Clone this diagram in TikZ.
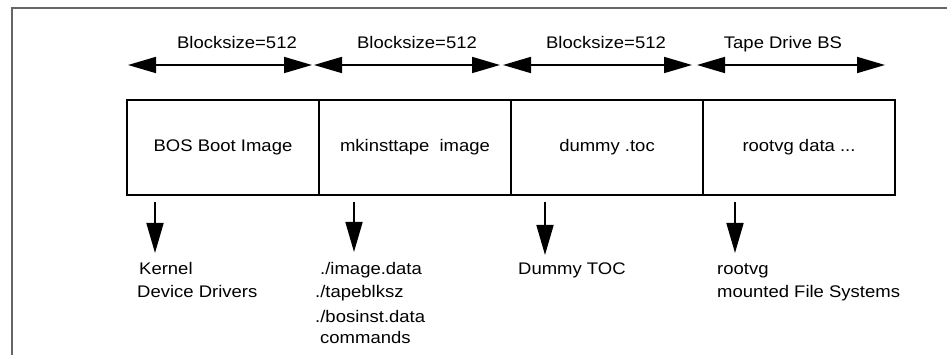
\documentclass[tikz,border=0pt]{standalone}
\usepackage{fontspec}
\setmainfont[FakeStretch=1.1]{Liberation Sans}
\usetikzlibrary{arrows.meta}
\begin{document}
\begin{tikzpicture}[x=1pt,y=-1pt,
  seg/.style={draw, line width=1.7pt, minimum width=192pt, minimum height=95pt, inner sep=0pt, font=\fontsize{16.8}{20}\selectfont},
  lbl/.style={inner sep=0pt, font=\fontsize{16.8}{20}\selectfont},
  dim/.style={line width=1.7pt, {Triangle[length=28pt,width=16pt]}-{Triangle[length=28pt,width=16pt]}},
  down/.style={line width=1.7pt, -{Triangle[length=30pt,width=17pt]}},
  frame/.style={draw=black!60, line width=1.2pt}]
\useasboundingbox (0,0) rectangle (947,355);
\draw[frame] (12,355) -- (12,8) -- (947,8);
% segments
\node[seg] (b1) at (223,147.5) {BOS Boot Image};
\node[seg] (b2) at (415,147.5) {mkinsttape\ \ image};
\node[seg] (b3) at (607,147.5) {dummy .toc};
\node[seg] (b4) at (799,147.5) {rootvg data ...};
% dimension arrows
\coordinate (d0) at (128,65);
\coordinate (d1a) at (312,65);
\coordinate (d1b) at (314,65);
\coordinate (d2a) at (500,65);
\coordinate (d2b) at (503,65);
\coordinate (d3a) at (692,65);
\coordinate (d3b) at (697,65);
\coordinate (d4) at (885,65);
\draw[dim] (d0) -- (d1a);
\draw[dim] (d1b) -- (d2a);
\draw[dim] (d2b) -- (d3a);
\draw[dim] (d3b) -- (d4);
\node[lbl, anchor=base] (t1) at (237,49) {Blocksize=512};
\node[lbl, anchor=base] (t2) at (417,49) {Blocksize=512};
\node[lbl, anchor=base] (t3) at (606,49) {Blocksize=512};
\node[lbl, anchor=base] (t4) at (783,49) {Tape Drive BS};
% down arrows
\coordinate (s1) at (155,202); \coordinate (e1) at (155,253);
\coordinate (s2) at (354,202); \coordinate (e2) at (354,252);
\coordinate (s3) at (545,202); \coordinate (e3) at (545,255);
\coordinate (s4) at (735,202); \coordinate (e4) at (735,253);
\draw[down] (s1) -- (e1);
\draw[down] (s2) -- (e2);
\draw[down] (s3) -- (e3);
\draw[down] (s4) -- (e4);
% texts below
\node[lbl, anchor=base west] (k1) at (139,274) {Kernel};
\node[lbl, anchor=base west] (k2) at (137,298) {Device Drivers};
\node[lbl, anchor=base west] (m1) at (320,274) {./image.data};
\node[lbl, anchor=base west] (m2) at (315,298) {./tapeblksz};
\node[lbl, anchor=base west] (m3) at (315,322) {./bosinst.data};
\node[lbl, anchor=base west] (m4) at (320,343) {commands};
\node[lbl, anchor=base west] (n1) at (518,274) {Dummy TOC};
\node[lbl, anchor=base west] (r1) at (717,274) {rootvg};
\node[lbl, anchor=base west] (r2) at (717,298) {mounted File Systems};
\end{tikzpicture}
\end{document}
